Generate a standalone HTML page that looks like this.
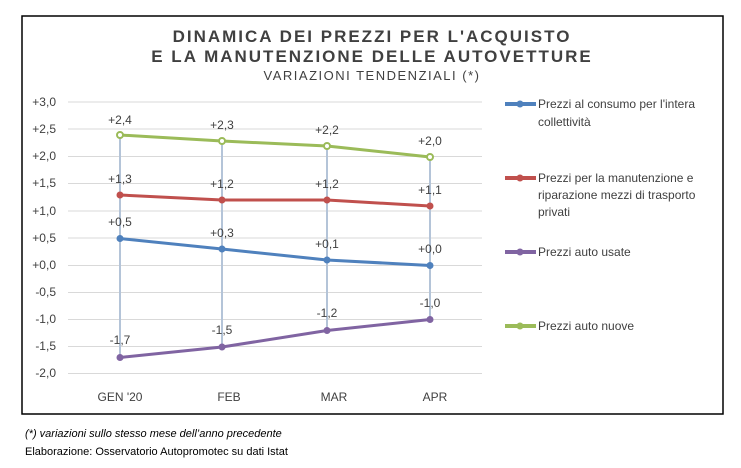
<!DOCTYPE html>
<html><head><meta charset="utf-8"><style>
body{margin:0;background:#fff;width:741px;height:463px;overflow:hidden;font-family:"Liberation Sans",sans-serif}
</style></head><body>
<svg width="741" height="463" xmlns="http://www.w3.org/2000/svg" font-family="Liberation Sans, sans-serif">
<rect x="22" y="16" width="701" height="398" fill="#fff" stroke="#000" stroke-width="1.5"/>
<g fill="#404040" text-anchor="middle" font-weight="bold" letter-spacing="2">
<text x="372" y="42" font-size="17">DINAMICA DEI PREZZI PER L'ACQUISTO</text>
<text x="372" y="62" font-size="17">E LA MANUTENZIONE DELLE AUTOVETTURE</text>
<text x="372" y="80" font-size="13" font-weight="normal" letter-spacing="1.5">VARIAZIONI TENDENZIALI (*)</text>
</g>
<g stroke="#d9d9d9" stroke-width="1">
<line x1="68" x2="482" y1="102" y2="102"/><line x1="68" x2="482" y1="129" y2="129"/>
<line x1="68" x2="482" y1="156.5" y2="156.5"/><line x1="68" x2="482" y1="183.5" y2="183.5"/>
<line x1="68" x2="482" y1="211" y2="211"/><line x1="68" x2="482" y1="238" y2="238"/>
<line x1="68" x2="482" y1="265.5" y2="265.5"/><line x1="68" x2="482" y1="292.5" y2="292.5"/>
<line x1="68" x2="482" y1="319.5" y2="319.5"/><line x1="68" x2="482" y1="346.5" y2="346.5"/>
<line x1="68" x2="482" y1="373.5" y2="373.5"/>
</g>
<g font-size="12" fill="#404040" text-anchor="end">
<text x="56" y="106">+3,0</text><text x="56" y="133">+2,5</text><text x="56" y="160">+2,0</text>
<text x="56" y="187">+1,5</text><text x="56" y="215">+1,0</text><text x="56" y="242">+0,5</text>
<text x="56" y="269">+0,0</text><text x="56" y="296">-0,5</text><text x="56" y="323">-1,0</text>
<text x="56" y="350">-1,5</text><text x="56" y="377">-2,0</text>
</g>
<g stroke="#b4c4d8" stroke-width="2">
<line x1="120" x2="120" y1="135" y2="357"/><line x1="222" x2="222" y1="141" y2="347"/>
<line x1="327" x2="327" y1="146" y2="330"/><line x1="430" x2="430" y1="157" y2="319"/>
</g>
<g stroke-width="3" fill="none" stroke-linejoin="round">
<polyline stroke="#9bbb59" points="120,135 222,141 327,146 430,157"/>
<polyline stroke="#c0504d" points="120,195 222,200 327,200 430,206"/>
<polyline stroke="#4f81bd" points="120,238.5 222,249 327,260 430,265.5"/>
<polyline stroke="#8064a2" points="120,357.5 222,347 327,330.5 430,319.5"/>
</g>
<g stroke-width="2" fill="#fff">
<g stroke="#9bbb59"><circle cx="120" cy="135" r="3"/><circle cx="222" cy="141" r="3"/><circle cx="327" cy="146" r="3"/><circle cx="430" cy="157" r="3"/></g>
</g>
<g fill="#c0504d"><circle cx="120" cy="195" r="3.5"/><circle cx="222" cy="200" r="3.5"/><circle cx="327" cy="200" r="3.5"/><circle cx="430" cy="206" r="3.5"/></g>
<g fill="#4f81bd"><circle cx="120" cy="238.5" r="3.5"/><circle cx="222" cy="249" r="3.5"/><circle cx="327" cy="260" r="3.5"/><circle cx="430" cy="265.5" r="3.5"/></g>
<g fill="#8064a2"><circle cx="120" cy="357.5" r="3.5"/><circle cx="222" cy="347" r="3.5"/><circle cx="327" cy="330.5" r="3.5"/><circle cx="430" cy="319.5" r="3.5"/></g>
<g font-size="12" fill="#404040" text-anchor="middle">
<text x="120" y="124">+2,4</text><text x="222" y="129">+2,3</text><text x="327" y="134">+2,2</text><text x="430" y="145">+2,0</text>
<text x="120" y="183">+1,3</text><text x="222" y="188">+1,2</text><text x="327" y="188">+1,2</text><text x="430" y="194">+1,1</text>
<text x="120" y="226">+0,5</text><text x="222" y="237">+0,3</text><text x="327" y="248">+0,1</text><text x="430" y="253">+0,0</text>
<text x="120" y="344">-1,7</text><text x="222" y="334">-1,5</text><text x="327" y="317">-1,2</text><text x="430" y="307">-1,0</text>
</g>
<g font-size="12" fill="#404040" text-anchor="middle">
<text x="120" y="401">GEN  '20</text><text x="229" y="401">FEB</text><text x="334" y="401">MAR</text><text x="435" y="401">APR</text>
</g>
<g stroke-width="4">
<line x1="505" x2="536" y1="104" y2="104" stroke="#4f81bd"/><circle cx="520" cy="104" r="3.5" fill="#4f81bd"/>
<line x1="505" x2="536" y1="178" y2="178" stroke="#c0504d"/><circle cx="520" cy="178" r="3.5" fill="#c0504d"/>
<line x1="505" x2="536" y1="252" y2="252" stroke="#8064a2"/><circle cx="520" cy="252" r="3.5" fill="#8064a2"/>
<line x1="505" x2="536" y1="326" y2="326" stroke="#9bbb59"/><circle cx="520" cy="326" r="3.5" fill="#9bbb59" stroke="none"/>
</g>
<g font-size="12" fill="#404040">
<text x="538" y="108">Prezzi al consumo per l'intera</text><text x="538" y="126">collettività</text>
<text x="538" y="182">Prezzi per la manutenzione e</text><text x="538" y="199">riparazione mezzi di trasporto</text><text x="538" y="216">privati</text>
<text x="538" y="256">Prezzi auto usate</text>
<text x="538" y="330">Prezzi auto nuove</text>
</g>
<text x="25" y="437" font-size="11" font-style="italic" fill="#000">(*) variazioni sullo stesso mese dell’anno precedente</text>
<text x="25" y="455" font-size="11" fill="#000">Elaborazione: Osservatorio Autopromotec su dati Istat</text>
</svg>
</body></html>
